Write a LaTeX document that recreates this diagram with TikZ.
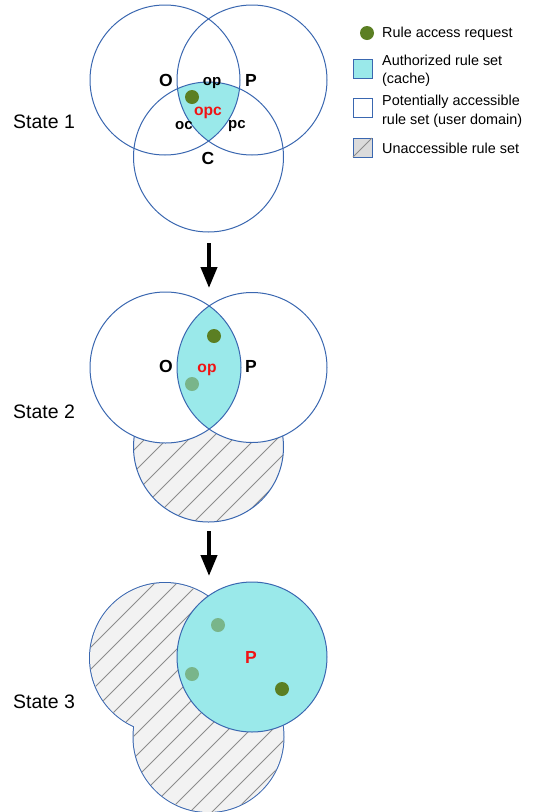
\documentclass[tikz,border=0pt]{standalone}
\usepackage{fontspec}
\setmainfont{Liberation Sans}
\usetikzlibrary{arrows.meta}
\definecolor{cblue}{HTML}{3A67B0}
\definecolor{cyanfill}{HTML}{9AE9EA}
\definecolor{dgreen}{HTML}{5B7F23}
\definecolor{lgreen}{HTML}{79B58A}
\definecolor{hgray}{HTML}{F2F2F2}
\definecolor{hline}{HTML}{8C8C8C}
\definecolor{lblred}{HTML}{F01414}
\tikzset{
  circ/.style={draw=cblue, line width=1pt},
  hatchln/.style={draw=hline, line width=0.8pt},
  dotd/.style={fill=dgreen},
  dotl/.style={fill=lgreen},
  statelbl/.style={anchor=base west, inner sep=0pt, font=\fontsize{19.5}{22}\selectfont},
  biglbl/.style={anchor=base, inner sep=0pt, font=\fontsize{17.5}{20}\selectfont\bfseries},
  smalllbl/.style={anchor=base, inner sep=0pt, font=\fontsize{15}{18}\selectfont\bfseries},
  leglbl/.style={anchor=base west, inner sep=0pt, font=\fontsize{14.4}{18}\selectfont},
  bigarrow/.style={line width=4pt, -{Triangle[width=16pt,length=21pt]}},
  legbox/.style={draw=cblue, line width=1pt}
}
\begin{document}
\begin{tikzpicture}[x=1pt,y=-1pt]
\useasboundingbox (0,0) rectangle (534,812);

% ---------------- State 1 ----------------
\coordinate (O1) at (165,80);
\coordinate (P1) at (252,80);
\coordinate (C1) at (208.5,157);
\fill[white] (O1) circle (75) (P1) circle (75) (C1) circle (75);
\begin{scope}
  \clip (O1) circle (75);
  \clip (P1) circle (75);
  \fill[cyanfill] (C1) circle (75);
\end{scope}
\draw[circ] (O1) circle (75);
\draw[circ] (P1) circle (75);
\draw[circ] (C1) circle (75);
\fill[dotd] (192,97) circle (7);
\node[biglbl] (o1) at (166,86) {O};
\node[smalllbl] (op1) at (212,85) {op};
\node[biglbl] (p1) at (251,86) {P};
\node[smalllbl, text=lblred, font=\fontsize{15.6}{18}\selectfont\bfseries] (opc1) at (208,115) {opc};
\node[smalllbl] (oc1) at (184,129) {oc};
\node[smalllbl] (pc1) at (237,128) {pc};
\node[biglbl] (c1) at (208,164) {C};
\node[statelbl] (s1) at (13,128) {State 1};

% arrow 1
\coordinate (a1s) at (209,243);
\coordinate (a1e) at (209,288);
\draw[bigarrow] (a1s) -- (a1e);

% ---------------- State 2 ----------------
\coordinate (O2) at (165.5,367.5);
\coordinate (P2) at (252,367.5);
\coordinate (C2) at (208.5,447);
\fill[hgray] (C2) circle (75);
\begin{scope}
  \clip (C2) circle (75);
  \foreach \c in {496,518,...,840} {
    \draw[hatchln] (\c-300,300) -- (\c-600,600);
  }
\end{scope}
\draw[circ] (C2) circle (75);
\fill[white] (O2) circle (75.5) (P2) circle (75);
\begin{scope}
  \clip (O2) circle (75.5);
  \fill[cyanfill] (P2) circle (75);
\end{scope}
\draw[circ] (O2) circle (75.5);
\draw[circ] (P2) circle (75);
\fill[dotd] (214,336) circle (7);
\fill[dotl] (192,384) circle (7);
\node[biglbl] (o2) at (166,372) {O};
\node[smalllbl, text=lblred, font=\fontsize{15.6}{18}\selectfont\bfseries] (op2) at (207,372) {op};
\node[biglbl] (p2) at (251,372) {P};
\node[statelbl] (s2) at (13,418) {State 2};

% arrow 2
\coordinate (a2s) at (209,531);
\coordinate (a2e) at (209,576);
\draw[bigarrow] (a2s) -- (a2e);

% ---------------- State 3 ----------------
\coordinate (O3) at (165,658);
\coordinate (P3) at (252,657);
\coordinate (C3) at (208.5,737);
\draw[draw=cblue, line width=2pt] (O3) circle (75) (C3) circle (75);
\fill[hgray] (O3) circle (75) (C3) circle (75);
\begin{scope}
  \clip (O3) circle (75) (C3) circle (75);
  \foreach \c in {650,672,...,1120} {
    \draw[hatchln] (\c-570,570) -- (\c-830,830);
  }
\end{scope}
\filldraw[circ, fill=cyanfill] (P3) circle (75);
\fill[dotl] (218,625) circle (7);
\fill[dotl] (192,674) circle (7);
\fill[dotd] (282,689) circle (7);
\node[biglbl, text=lblred] (p3) at (251,663) {P};
\node[statelbl] (s3) at (13,708) {State 3};

% ---------------- Legend ----------------
\fill[dotd] (367,33) circle (7);
\node[leglbl] (l1) at (382,37.7) {Rule access request};

\filldraw[legbox, fill=cyanfill] (353,59) rectangle (372,78);
\node[leglbl] (l2a) at (382,65.7) {Authorized rule set};
\node[leglbl] (l2b) at (382,83.5) {(cache)};

\filldraw[legbox, fill=white] (353,98) rectangle (372,117);
\node[leglbl] (l3a) at (382,105.5) {Potentially accessible};
\node[leglbl] (l3b) at (382,124) {rule set (user domain)};

\filldraw[legbox, fill=hgray!80!gray] (353,138) rectangle (372,157);
\draw[hatchln] (353,157) -- (372,138);
\node[leglbl] (l4) at (382,153.5) {Unaccessible rule set};
\end{tikzpicture}
\end{document}
